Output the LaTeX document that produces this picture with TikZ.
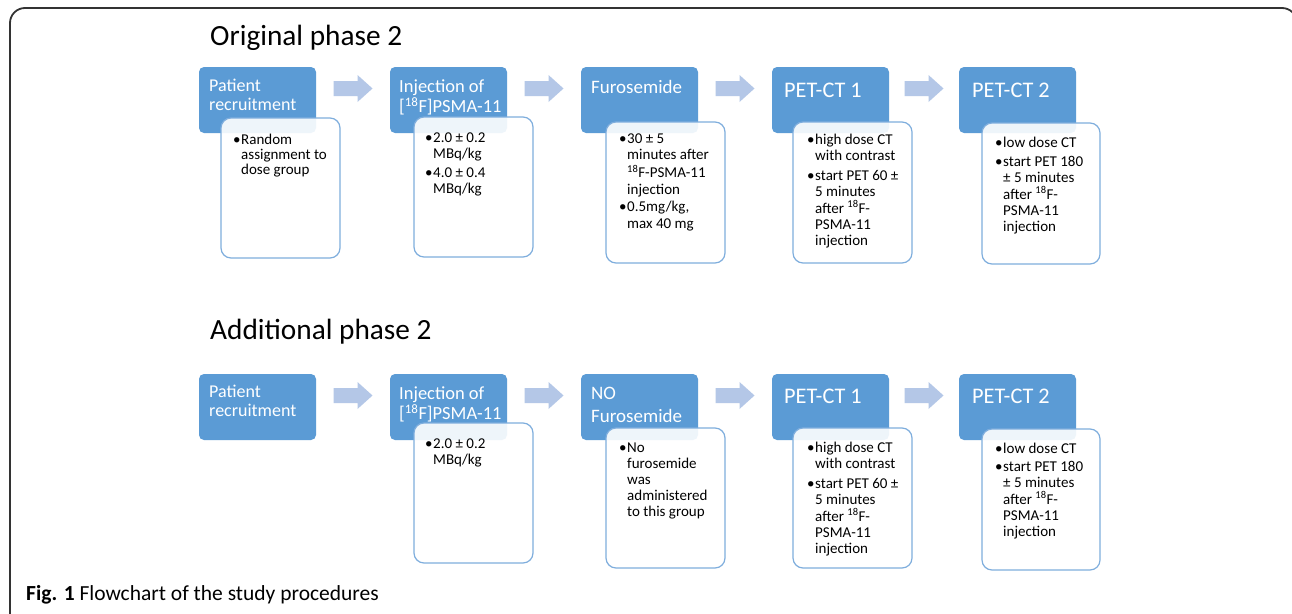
\documentclass[tikz,border=0pt]{standalone}
\usepackage{fontspec}
\setmainfont{Carlito}
\usetikzlibrary{calc}
\definecolor{sblue}{HTML}{5B9BD5}
\definecolor{sarrow}{HTML}{B4C7E7}
\definecolor{sline}{HTML}{7FAEDD}
\definecolor{frameclr}{HTML}{333333}
\newcommand\bul{\makebox[8pt][l]{•}}
\newcommand\iso[1]{\textsuperscript{#1}}
\tikzset{
  bluebox/.style={fill=sblue, rounded corners=5pt, inner sep=0pt, outer sep=0pt, anchor=north west, minimum width=117pt, minimum height=66pt},
  notebox/.style={draw=sline, line width=1.2pt, fill=white, fill opacity=0.9, rounded corners=10pt, inner sep=0pt, outer sep=0pt, anchor=north west, minimum width=119pt, minimum height=140pt},
  ttl/.style={text=white, anchor=base west, inner sep=0pt, font=\fontsize{18}{19.5}\selectfont},
  bigttl/.style={ttl, font=\fontsize{22.3}{24}\selectfont},
  note/.style={anchor=base west, inner sep=0pt, font=\fontsize{15}{16}\selectfont},
  heading/.style={anchor=base west, inner sep=0pt, font=\fontsize{29.3}{32}\selectfont},
  bigarrow/.pic={\fill[sarrow] (-19.5,-7.5) -- (4.5,-7.5) -- (4.5,-13.5) -- (19.5,0) -- (4.5,13.5) -- (4.5,7.5) -- (-19.5,7.5) -- cycle;}
}
\begin{document}
\begin{tikzpicture}[x=1pt,y=-1pt]
\clip (0,0) rectangle (1292,613);
\fill[white] (0,0) rectangle (1292,613);
% frame
\draw[frameclr, line width=1.8pt, rounded corners=15pt] (10,623) -- (10,8) -- (1297,8) -- (1297,60);

% headings
\node[heading] (h1) at (210,45) {Original phase 2};
\node[heading] (h2) at (210,339) {Additional phase 2};

% ---------- top row ----------
\node[bluebox] (t1) at (199,67) {};
\node[bluebox] (t2) at (390,67) {};
\node[bluebox] (t3) at (581,67) {};
\node[bluebox] (t4) at (772,67) {};
\node[bluebox] (t5) at (959,67) {};

\foreach \a/\b in {t1/t2,t2/t3,t3/t4,t4/t5}
  \pic at ($(\a.north east)!0.5!(\b.north west)+(0,21.5)$) {bigarrow};

\node[ttl] (t1l) at ($(t1.north west)+(10,24)$) {\begin{tabular}[t]{@{}l@{}}Patient\\recruitment\end{tabular}};
\node[ttl, font=\fontsize{18.5}{19}\selectfont] (t2l) at ($(t2.north west)+(9,25)$) {\begin{tabular}[t]{@{}l@{}}Injection of\\{[}\iso{18}F]PSMA-11\end{tabular}};
\node[ttl, font=\fontsize{19}{20}\selectfont] (t3l) at ($(t3.north west)+(10,26)$) {Furosemide};
\node[bigttl] (t4l) at ($(t4.north west)+(12,30)$) {PET-CT 1};
\node[bigttl] (t5l) at ($(t5.north west)+(13,30)$) {PET-CT 2};

\node[notebox] (n1) at (221,118) {};
\node[notebox] (n2) at (414,117) {};
\node[notebox, minimum height=141pt] (n3) at (606,122) {};
\node[notebox, minimum height=141pt] (n4) at (793,122) {};
\node[notebox, minimum width=118pt, minimum height=141pt] (n5) at (982,123) {};

\node[note, font=\fontsize{15}{15}\selectfont] (n1t) at ($(n1.north west)+(12,26)$) {\begin{tabular}[t]{@{}l@{}l@{}}
\bul&Random\\ &assignment to\\ &dose group\end{tabular}};
\node[note] (n2t) at ($(n2.north west)+(11,25)$) {\begin{tabular}[t]{@{}l@{}l@{}}
\bul&2.0 ± 0.2\\ &MBq/kg\\[3pt]
\bul&4.0 ± 0.4\\ &MBq/kg\end{tabular}};
\node[note, font=\fontsize{15}{16.8}\selectfont] (n3t) at ($(n3.north west)+(13,21)$) {\begin{tabular}[t]{@{}l@{}l@{}}
\bul&30 ± 5\\ &minutes after\\ &\iso{18}F-PSMA-11\\ &injection\\[1pt]
\bul&0.5mg/kg,\\ &max 40 mg\end{tabular}};
\node[note] (n4t) at ($(n4.north west)+(14,22)$) {\begin{tabular}[t]{@{}l@{}l@{}}
\bul&high dose CT\\ &with contrast\\[4pt]
\bul&start PET 60 ±\\ &5 minutes\\ &after \iso{18}F-\\ &PSMA-11\\ &injection\end{tabular}};
\node[note] (n5t) at ($(n5.north west)+(13,24)$) {\begin{tabular}[t]{@{}l@{}l@{}}
\bul&low dose CT\\[3pt]
\bul&start PET 180\\ &± 5 minutes\\ &after \iso{18}F-\\ &PSMA-11\\ &injection\end{tabular}};

% ---------- bottom row ----------
\node[bluebox] (b1) at (199,374) {};
\node[bluebox] (b2) at (390,374) {};
\node[bluebox] (b3) at (581,374) {};
\node[bluebox] (b4) at (772,374) {};
\node[bluebox] (b5) at (959,374) {};

\foreach \a/\b in {b1/b2,b2/b3,b3/b4,b4/b5}
  \pic at ($(\a.north east)!0.5!(\b.north west)+(0,21.5)$) {bigarrow};

\node[ttl] (b1l) at ($(b1.north west)+(10,23)$) {\begin{tabular}[t]{@{}l@{}}Patient\\recruitment\end{tabular}};
\node[ttl, font=\fontsize{18.5}{19}\selectfont] (b2l) at ($(b2.north west)+(9,25)$) {\begin{tabular}[t]{@{}l@{}}Injection of\\{[}\iso{18}F]PSMA-11\end{tabular}};
\node[ttl, font=\fontsize{19}{23}\selectfont] (b3l) at ($(b3.north west)+(10,25)$) {\begin{tabular}[t]{@{}l@{}}NO\\Furosemide\end{tabular}};
\node[bigttl] (b4l) at ($(b4.north west)+(12,29)$) {PET-CT 1};
\node[bigttl] (b5l) at ($(b5.north west)+(13,29)$) {PET-CT 2};

\node[notebox] (m2) at (414,423) {};
\node[notebox] (m3) at (606,428) {};
\node[notebox] (m4) at (793,428) {};
\node[notebox, minimum width=118pt, minimum height=141pt] (m5) at (982,429) {};

\node[note] (m2t) at ($(m2.north west)+(11,25)$) {\begin{tabular}[t]{@{}l@{}l@{}}
\bul&2.0 ± 0.2\\ &MBq/kg\end{tabular}};
\node[note] (m3t) at ($(m3.north west)+(13,24)$) {\begin{tabular}[t]{@{}l@{}l@{}}
\bul&No\\ &furosemide\\ &was\\ &administered\\ &to this group\end{tabular}};
\node[note] (m4t) at ($(m4.north west)+(14,24)$) {\begin{tabular}[t]{@{}l@{}l@{}}
\bul&high dose CT\\ &with contrast\\[4pt]
\bul&start PET 60 ±\\ &5 minutes\\ &after \iso{18}F-\\ &PSMA-11\\ &injection\end{tabular}};
\node[note] (m5t) at ($(m5.north west)+(13,24)$) {\begin{tabular}[t]{@{}l@{}l@{}}
\bul&low dose CT\\[2pt]
\bul&start PET 180\\ &± 5 minutes\\ &after \iso{18}F-\\ &PSMA-11\\ &injection\end{tabular}};

% caption
\node[anchor=base west, inner sep=0pt, font=\fontsize{21.5}{24}\selectfont] (cap) at (26,600) {\textbf{Fig. 1} Flowchart of the study procedures};
\end{tikzpicture}
\end{document}
